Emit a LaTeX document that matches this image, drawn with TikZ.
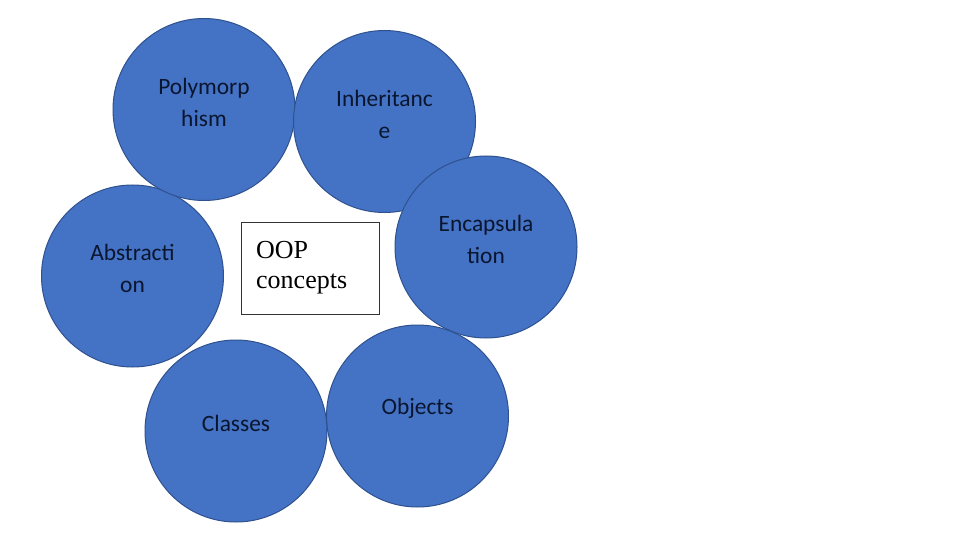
\documentclass[tikz,border=0pt]{standalone}
\usepackage{fontspec}
\setmainfont{Liberation Serif}
\newfontfamily\calib{Carlito}
\definecolor{oblue}{HTML}{4472C4}
\definecolor{oedge}{HTML}{2F528F}
\definecolor{tdark}{HTML}{0A1630}
\begin{document}
\begin{tikzpicture}[x=1pt,y=-1pt,
  bubble/.style={circle, fill=oblue, draw=oedge, line width=1pt, minimum size=182pt, inner sep=0pt},
  btext/.style={font=\calib\fontsize{23.4}{32}\selectfont, align=center, text=tdark, inner sep=0pt},
  boxstyle/.style={draw=black!80, line width=1pt, fill=white, minimum width=138pt, minimum height=92pt, inner sep=0pt, anchor=north west},
  boxtext/.style={font=\fontsize{26}{30}\selectfont, align=left, anchor=north west, inner sep=0pt}]
\useasboundingbox (0,0) rectangle (960,540);
\fill[white] (0,0) rectangle (960,540);
% circles
\node[bubble] (abs) at (132.5,276) {};
\node[bubble] (poly) at (204,109.5) {};
\node[bubble] (inh) at (384.5,121.5) {};
\node[bubble] (obj) at (417.5,416) {};
\node[bubble] (enc) at (486,247) {};
\node[bubble] (cls) at (236,431) {};
% labels
\node[btext] (tabs) at (132.5,268.5) {Abstracti\\on};
\node[btext] (tpoly) at (204,102) {Polymorp\\hism};
\node[btext] (tinh) at (384.5,114) {Inheritanc\\e};
\node[btext] (tobj) at (417.5,408.5) {Objects};
\node[btext] (tenc) at (486,239.5) {Encapsula\\tion};
\node[btext] (tcls) at (236,423.5) {Classes};
% central box
\node[boxstyle] (box) at (241,222) {};
\node[boxtext] (boxtxt) at (256,241.5) {OOP\\concepts};
\end{tikzpicture}
\end{document}
